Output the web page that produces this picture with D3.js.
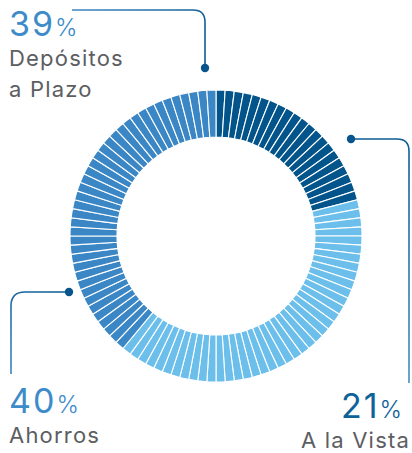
<!DOCTYPE html>
<html><head><meta charset="utf-8">
<script src="https://cdn.jsdelivr.net/npm/d3@7"></script>
<style>
html,body{margin:0;padding:0;background:#fff;}
svg{display:block;font-family:Inter,"Open Sans",sans-serif;}
</style></head>
<body><svg id="c" width="412" height="453"></svg>
<script>
// ---- data ----
const segments = ["A la Vista", "Ahorros", "Depósitos a Plazo"];
const segmentValues = [21, 40, 39];            // percent, drawn clockwise from 12 o'clock
const segmentColors = ["#02548b", "#6cbfeb", "#3b87c5"];
const labelPcts = ["39", "40", "21"];
const labelNames = [["Depósitos", "a Plazo"], ["Ahorros"], ["A la Vista"]];
const labelPctColors = ["#3d8bc9", "#3d8bc9", "#0d6298"];

const W = 412, H = 453;
const cx = 216, cy = 236, rOuter = 146, rInner = 99;
const svg = d3.select("#c");

// expand into one slice per percentage point
const units = [];
segmentValues.forEach((v, i) => { for (let k = 0; k < v; k++) units.push(i); });

const pie = d3.pie().value(1).sort(null);
const arc = d3.arc().innerRadius(rInner).outerRadius(rOuter);
const color = d3.scaleOrdinal().domain(d3.range(segments.length)).range(segmentColors);

const g = svg.append("g").attr("transform", `translate(${cx},${cy})`);
g.selectAll("path.slice").data(pie(units)).join("path")
  .attr("class", "slice")
  .attr("d", arc)
  .attr("fill", d => color(d.data))
  .attr("stroke", "#fff").attr("stroke-width", 1.1);

// ---- leader lines ----
const defs = svg.append("defs");
function grad(id, x1, y1, x2, y2, c1, c2) {
  const lg = defs.append("linearGradient").attr("id", id).attr("gradientUnits", "userSpaceOnUse")
    .attr("x1", x1).attr("y1", y1).attr("x2", x2).attr("y2", y2);
  lg.append("stop").attr("offset", 0).attr("stop-color", c1);
  lg.append("stop").attr("offset", 1).attr("stop-color", c2);
}
grad("g1", 72, 10, 205, 68, "#3d86c2", "#0a5a92");
grad("g2", 351, 139, 409, 383, "#0a5a92", "#4a8cbd");
grad("g3", 69, 292, 11, 374, "#0a5a92", "#3d86c2");

const leaders = [
  {d: "M72,10 H193 Q205,10 205,22 V68", dot: [205, 68], g: "g1"},
  {d: "M351,139 H397 Q409,139 409,151 V383", dot: [351, 139], g: "g2"},
  {d: "M69,292 H25 Q11,292 11,306 V374", dot: [69, 292], g: "g3"}
];
leaders.forEach(l => {
  svg.append("path").attr("d", l.d).attr("fill", "none")
    .attr("stroke", `url(#${l.g})`).attr("stroke-width", 1.6);
  svg.append("circle").attr("cx", l.dot[0]).attr("cy", l.dot[1]).attr("r", 4.2).attr("fill", "#07558c");
});

// ---- labels ----
const labelPos = [
  {x: 9, y: 36, anchor: "start"},
  {x: 9, y: 413, anchor: "start"},
  {x: 402, y: 418, anchor: "end"}
];
labelPcts.forEach((p, i) => {
  const pos = labelPos[i];
  const t = svg.append("text").attr("x", pos.x).attr("y", pos.y)
    .attr("text-anchor", pos.anchor).attr("fill", labelPctColors[i]);
  t.append("tspan").attr("font-size", 34).attr("font-weight", 400)
    .attr("letter-spacing", 2).text(p);
  t.append("tspan").attr("font-size", 24).attr("font-weight", 300).text("%");
  labelNames[i].forEach((n, j) => {
    svg.append("text")
      .attr("x", pos.anchor === "end" ? pos.x + 8 : pos.x)
      .attr("y", pos.y + 30 + j * 31)
      .attr("text-anchor", pos.anchor)
      .attr("letter-spacing", 1.2)
      .attr("font-size", 22).attr("fill", "#5c5e62").text(n);
  });
});
</script></body></html>
